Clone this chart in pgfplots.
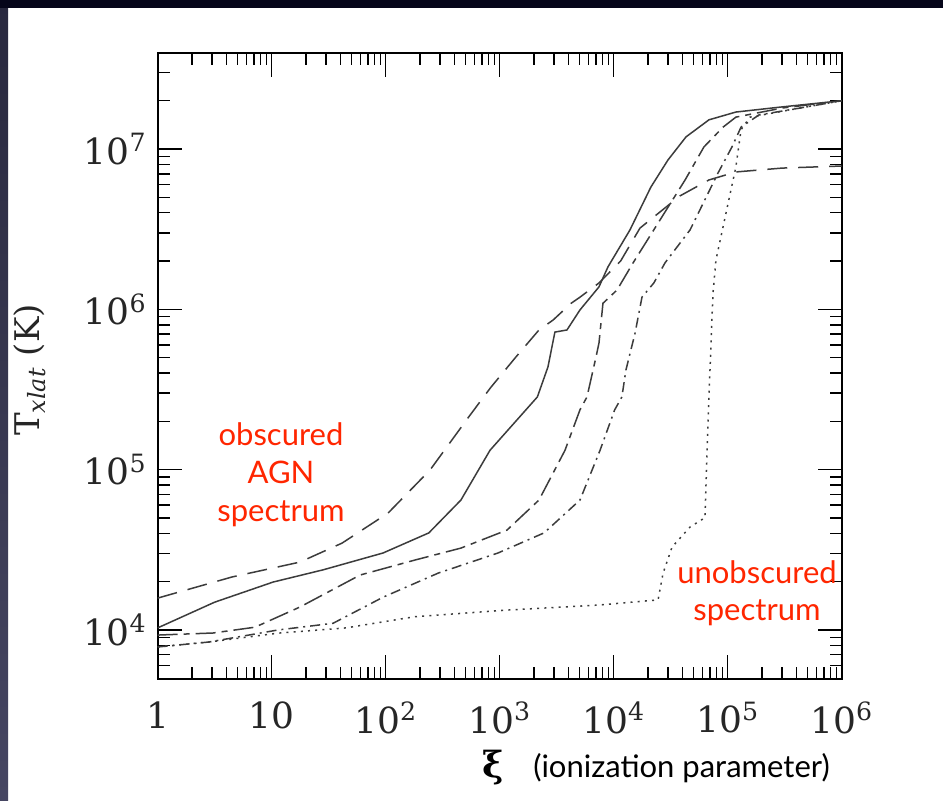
\documentclass[border=0pt]{standalone}
\usepackage{fontspec}
\setmainfont{DejaVu Serif}
\newfontfamily\annotfont{Lato}
\usepackage{pgfplots}
\usepackage{pgfplotstable}
\pgfplotsset{compat=1.18}

\definecolor{annot}{RGB}{255,38,0}
\definecolor{topband}{RGB}{6,6,26}
\definecolor{bandtop}{RGB}{40,40,62}
\definecolor{bandbot}{RGB}{70,70,98}
\definecolor{curve}{RGB}{60,60,60}

% Stability curves: ionization parameter xi vs. temperature T (K)
\pgfplotstableread{
xi      T
1       10300
3.16    14900
10.3    19900
28.2    23700
94.8    30200
239     40300
457     64600
822     132000
2140    284000
2650    437000
3050    721000
3890    743000
5060    991000
7430    1380000
8910    1840000
13900   3130000
21200   5790000
29900   8530000
43100   11900000
68500   15200000
118000  17000000
300000  18300000
1000000 20000000
}\solidcurve

\pgfplotstableread{
xi      T
1       15800
4.49    21400
17.7    26500
41.4    34800
105     53600
245     99500
550     219000
839     327000
1390    505000
2210    743000
2940    857000
4230    1090000
5060    1190000
7430    1460000
11500   2000000
17000   3210000
38000   5090000
68500   6410000
118000  7190000
300000  7600000
1000000 7830000
}\dashedcurve

\pgfplotstableread{
xi      T
1       9290
3.06    9570
7.13    10400
17.7    13900
59.6    22000
181     27300
457     32400
1160    42000
2210    64600
3740    132000
5060    236000
5830    284000
7000    505000
7430    617000
8050    1090000
10700   1320000
14800   1950000
25500   3610000
42300   6410000
61900   10300000
91200   13700000
118000  15800000
300000  18000000
1000000 20000000
}\longshortcurve

\pgfplotstableread{
xi      T
1       7830
2.82    8410
11.4    10000
34.5    11000
94.8    16000
288     22600
966     30200
2450    40300
5060    64600
7590    132000
10200   236000
11800   284000
12800   418000
15400   711000
17700   1190000
22500   1460000
28200   1950000
46800   3130000
82200   7080000
109000  10300000
131000  13700000
188000  16300000
431000  18000000
1000000 20000000
}\dashdotcurve

\pgfplotstableread{
xi      T
1       7830
2.82    8410
11.4    9550
44.9    10300
181     12100
1160    13300
7430    14300
24500   15400
27100   22600
32500   32900
46800   43900
63100   50100
68500   284000
71400   617000
74300   1260000
78900   2030000
118000  7730000
131000  13200000
157000  15800000
431000  18000000
1000000 20000000
}\dottedcurve

\begin{document}
\begin{tikzpicture}
\useasboundingbox (0pt,0pt) rectangle (471.5pt,400pt);
\fill[white] (0pt,0pt) rectangle (471.5pt,400pt);
\shade[top color=bandtop, bottom color=bandbot] (0pt,0pt) rectangle (4pt,400pt);
\fill[topband] (0pt,396pt) rectangle (471.5pt,400pt);

\begin{axis}[
  at={(78.85pt,60.5pt)}, anchor=south west,
  scale only axis, width=342pt, height=313pt,
  xmode=log, ymode=log,
  xmin=1, xmax=1e6, ymin=4943, ymax=3.97e7,
  axis line style={line width=1.1pt, black},
  tick align=inside,
  major tick length=12pt, minor tick length=6pt,
  every tick/.style={black, line width=0.7pt},
  xtick={1,10,100,1000,10000,100000,1000000},
  xticklabels={1,10,10\textsuperscript{2},10\textsuperscript{3},10\textsuperscript{4},10\textsuperscript{5},10\textsuperscript{6}},
  minor xtick={2,3,4,5,6,7,8,9,20,30,40,50,60,70,80,90,
    200,300,400,500,600,700,800,900,
    2000,3000,4000,5000,6000,7000,8000,9000,
    20000,30000,40000,50000,60000,70000,80000,90000,
    200000,300000,400000,500000,600000,700000,800000,900000},
  ytick={1e4,1e5,1e6,1e7},
  yticklabels={10\textsuperscript{4},10\textsuperscript{5},10\textsuperscript{6},10\textsuperscript{7}},
  minor ytick={5000,6000,7000,8000,9000,
    20000,30000,40000,50000,60000,70000,80000,90000,
    200000,300000,400000,500000,600000,700000,800000,900000,
    2e6,3e6,4e6,5e6,6e6,7e6,8e6,9e6,2e7,3e7},
  ticklabel style={font=\fontsize{18}{20}\selectfont, text=black!85},
  xticklabel style={yshift=-8pt},
  yticklabel style={xshift=-2pt},
  every axis plot/.append style={curve, line width=0.75pt},
]
\addplot[solid] table[x=xi, y=T] {\solidcurve};
\addplot[dash pattern=on 10pt off 5.5pt] table[x=xi, y=T] {\dashedcurve};
\addplot[dash pattern=on 10pt off 3pt on 3pt off 3pt] table[x=xi, y=T] {\longshortcurve};
\addplot[dash pattern=on 5pt off 2.5pt on 1pt off 2.5pt] table[x=xi, y=T] {\dashdotcurve};
\addplot[dash pattern=on 1pt off 2.6pt] table[x=xi, y=T] {\dottedcurve};
\end{axis}

% axis titles
\node[rotate=90, font=\fontsize{17}{20}\selectfont, text=black!85] at (15pt,215pt)
  {T\textsubscript{\itshape xlat}\,\,(K)};
\node[font=\fontsize{18}{20}\selectfont\bfseries] at (246.5pt,16pt) {ξ};
\node[font=\annotfont\fontsize{15.5}{18}\selectfont] at (340.75pt,16pt) {(ionization parameter)};

% annotations
\node[font=\annotfont\fontsize{15.5}{19}\selectfont, text=annot, align=center] at (140.5pt,162.5pt)
  {obscured\\AGN\\spectrum};
\node[font=\annotfont\fontsize{15.5}{18.5}\selectfont, text=annot, align=center] at (378.5pt,103.25pt)
  {unobscured\\spectrum};
\end{tikzpicture}
\end{document}
